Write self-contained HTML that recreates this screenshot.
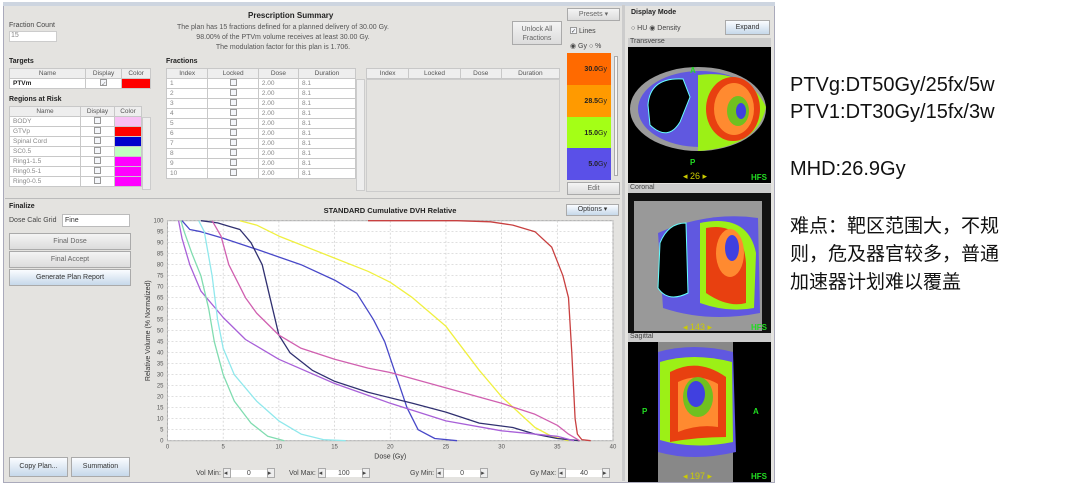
<!DOCTYPE html>
<html><head><meta charset="utf-8"><style>
*{box-sizing:border-box;margin:0;padding:0}
body{width:1080px;height:490px;background:#fff;font-family:"Liberation Sans",sans-serif;position:relative;overflow:hidden;font-size:7px;color:#444}
.abs{position:absolute}
.panel{position:absolute;background:#e4e3e0}
.b{font-weight:bold;color:#222}
.btn{position:absolute;background:linear-gradient(#f4f4f4,#dcdcdc);border:1px solid #aaa;text-align:center;color:#666;font-size:7px}
.btnb{background:linear-gradient(#fafcff,#c6d8ea);color:#333}
table{border-collapse:collapse;position:absolute;font-size:6.5px;color:#888}
td,th{border:1px solid #c8c8c8;height:10px;padding:0 3px;font-weight:normal;background:#fff}
th{background:#eee;color:#555;text-align:center}
.cb{display:inline-block;width:7px;height:7px;border:1px solid #999;background:#f4f6fa}
.txt{font-family:"Liberation Sans","Noto Sans CJK SC",sans-serif;color:#111}
</style></head><body>
<div class="panel" style="left:3px;top:2px;width:772px;height:481px;border:1px solid #aab"></div>
<div class="abs" style="left:3px;top:2px;width:772px;height:4px;background:#cdd5e0"></div>

<!-- top-left -->
<div class="abs" style="left:9px;top:22px;font-size:7px">Fraction Count</div>
<div class="abs" style="left:9px;top:31px;width:48px;height:11px;background:#fff;border:1px solid #ccc;font-size:7px;padding-left:1px;color:#888">15</div>
<div class="abs b" style="left:248px;top:11px;font-size:8px">Prescription Summary</div>
<div class="abs" style="left:168px;top:23px;width:230px;text-align:center;font-size:7px;line-height:10px;color:#555">The plan has 15 fractions defined for a planned delivery of 30.00 Gy.<br>98.00% of the PTVm volume receives at least 30.00 Gy.<br>The modulation factor for this plan is 1.706.</div>
<div class="btn" style="left:512px;top:21px;width:50px;height:24px;line-height:9px;padding-top:3px">Unlock All<br>Fractions</div>

<div class="abs b" style="left:9px;top:58px;font-size:7px">Targets</div>
<table style="left:9px;top:68px;width:142px"><tr><th style="width:76px">Name</th><th>Display</th><th>Color</th></tr><tr><td style="color:#222;font-weight:bold">PTVm</td><td style="text-align:center"><span class="cb">✓</span></td><td style="background:#f00"></td></tr></table>
<div class="abs b" style="left:9px;top:96px">Regions at Risk</div>
<table style="left:9px;top:106px;width:133px">
<tr><th style="width:71px">Name</th><th>Display</th><th style="width:27px">Color</th></tr>
<tr><td>BODY</td><td style="text-align:center"><span class="cb"></span></td><td style="background:#f8c0f4"></td></tr>
<tr><td>GTVp</td><td style="text-align:center"><span class="cb"></span></td><td style="background:#f00"></td></tr>
<tr><td>Spinal Cord</td><td style="text-align:center"><span class="cb"></span></td><td style="background:#00c"></td></tr>
<tr><td>SC0.5</td><td style="text-align:center"><span class="cb"></span></td><td style="background:#c0ffc0"></td></tr>
<tr><td>Ring1-1.5</td><td style="text-align:center"><span class="cb"></span></td><td style="background:#f0f"></td></tr>
<tr><td>Ring0.5-1</td><td style="text-align:center"><span class="cb"></span></td><td style="background:#f0f"></td></tr>
<tr><td>Ring0-0.5</td><td style="text-align:center"><span class="cb"></span></td><td style="background:#f0f"></td></tr></table>
<div class="abs" style="left:142px;top:117px;width:9px;height:73px;background:#eee;border:1px solid #ccc"></div>

<div class="abs b" style="left:166px;top:58px">Fractions</div>
<table style="left:166px;top:68px;width:190px">
<tr><th>Index</th><th>Locked</th><th>Dose</th><th>Duration</th></tr>
<tr><td>1</td><td style="text-align:center"><span class="cb"></span></td><td>2.00</td><td>8.1</td></tr>
<tr><td>2</td><td style="text-align:center"><span class="cb"></span></td><td>2.00</td><td>8.1</td></tr>
<tr><td>3</td><td style="text-align:center"><span class="cb"></span></td><td>2.00</td><td>8.1</td></tr>
<tr><td>4</td><td style="text-align:center"><span class="cb"></span></td><td>2.00</td><td>8.1</td></tr>
<tr><td>5</td><td style="text-align:center"><span class="cb"></span></td><td>2.00</td><td>8.1</td></tr>
<tr><td>6</td><td style="text-align:center"><span class="cb"></span></td><td>2.00</td><td>8.1</td></tr>
<tr><td>7</td><td style="text-align:center"><span class="cb"></span></td><td>2.00</td><td>8.1</td></tr>
<tr><td>8</td><td style="text-align:center"><span class="cb"></span></td><td>2.00</td><td>8.1</td></tr>
<tr><td>9</td><td style="text-align:center"><span class="cb"></span></td><td>2.00</td><td>8.1</td></tr>
<tr><td>10</td><td style="text-align:center"><span class="cb"></span></td><td>2.00</td><td>8.1</td></tr></table>
<div class="abs" style="left:356px;top:79px;width:9px;height:112px;background:#eee;border:1px solid #ccc"></div>
<table style="left:366px;top:68px;width:194px"><tr><th>Index</th><th>Locked</th><th>Dose</th><th>Duration</th></tr></table>
<div class="abs" style="left:366px;top:79px;width:194px;height:113px;border:1px solid #ccc"></div>

<div class="btn" style="left:567px;top:8px;width:53px;height:13px;line-height:11px">Presets ▾</div>
<div class="abs" style="left:570px;top:27px"><span class="cb" style="font-size:6px">✓</span> Lines</div>
<div class="abs" style="left:570px;top:42px">◉ Gy ○ %</div>
<div class="abs" style="left:567px;top:53px;width:44px;height:32px;background:#ff6a00;font-size:7px;text-align:right;padding:13px 4px 0 0;color:#222"><b>30.0</b>Gy</div>
<div class="abs" style="left:567px;top:85px;width:44px;height:32px;background:#ff9a00;text-align:right;padding:13px 4px 0 0;color:#222"><b>28.5</b>Gy</div>
<div class="abs" style="left:567px;top:117px;width:44px;height:31px;background:#a4ff16;text-align:right;padding:13px 4px 0 0;color:#222"><b>15.0</b>Gy</div>
<div class="abs" style="left:567px;top:148px;width:44px;height:32px;background:#5a50e8;text-align:right;padding:13px 4px 0 0;color:#222"><b>5.0</b>Gy</div>
<div class="abs" style="left:614px;top:56px;width:4px;height:120px;border:1px solid #aaa;background:#f4f4f4"></div>
<div class="btn" style="left:567px;top:182px;width:53px;height:13px;line-height:11px">Edit</div>

<!-- finalize -->
<div class="abs" style="left:5px;top:198px;width:615px;height:2px;border-top:1px solid #bbb"></div>
<div class="abs b" style="left:9px;top:203px">Finalize</div>
<div class="abs" style="left:9px;top:217px">Dose Calc Grid</div>
<div class="abs" style="left:62px;top:214px;width:68px;height:13px;background:#fff;border:1px solid #bbb;padding:2px;color:#333">Fine</div>
<div class="btn" style="left:9px;top:233px;width:122px;height:17px;line-height:15px">Final Dose</div>
<div class="btn" style="left:9px;top:251px;width:122px;height:17px;line-height:15px">Final Accept</div>
<div class="btn btnb" style="left:9px;top:269px;width:122px;height:17px;line-height:15px">Generate Plan Report</div>
<div class="btn btnb" style="left:9px;top:457px;width:59px;height:20px;line-height:18px">Copy Plan...</div>
<div class="btn btnb" style="left:71px;top:457px;width:59px;height:20px;line-height:18px">Summation</div>

<div class="btn btnb" style="left:566px;top:204px;width:53px;height:12px;line-height:10px">Options ▾</div>

<svg class="abs" style="left:0;top:0" width="780" height="490" id="chart"></svg>

<!-- bottom controls -->
<div class="abs" style="left:196px;top:468px">Vol Min: <span style="display:inline-block;width:8px;border:1px solid #aaa;background:#eee">◂</span><span style="display:inline-block;width:36px;background:#fff;text-align:center">0</span><span style="display:inline-block;width:8px;border:1px solid #aaa;background:#eee">▸</span></div>
<div class="abs" style="left:289px;top:468px">Vol Max: <span style="display:inline-block;width:8px;border:1px solid #aaa;background:#eee">◂</span><span style="display:inline-block;width:36px;background:#fff;text-align:center">100</span><span style="display:inline-block;width:8px;border:1px solid #aaa;background:#eee">▸</span></div>
<div class="abs" style="left:410px;top:468px">Gy Min: <span style="display:inline-block;width:8px;border:1px solid #aaa;background:#eee">◂</span><span style="display:inline-block;width:36px;background:#fff;text-align:center">0</span><span style="display:inline-block;width:8px;border:1px solid #aaa;background:#eee">▸</span></div>
<div class="abs" style="left:530px;top:468px">Gy Max: <span style="display:inline-block;width:8px;border:1px solid #aaa;background:#eee">◂</span><span style="display:inline-block;width:36px;background:#fff;text-align:center">40</span><span style="display:inline-block;width:8px;border:1px solid #aaa;background:#eee">▸</span></div>

<!-- right image panels -->
<div class="abs" style="left:622px;top:5px;width:3px;height:476px;background:#ccc"></div>
<div class="abs b" style="left:631px;top:9px">Display Mode</div>
<div class="abs" style="left:631px;top:24px">○ HU ◉ Density</div>
<div class="btn btnb" style="left:725px;top:20px;width:45px;height:15px;line-height:13px">Expand</div>
<div class="abs" style="left:628px;top:38px;width:143px;height:9px;background:#ccc;padding-left:2px">Transverse</div>
<svg class="abs" style="left:628px;top:47px" width="143" height="136">
<rect width="143" height="136" fill="#000"/>
<ellipse cx="70" cy="62" rx="68" ry="42" fill="#9a9a9a"/>
<ellipse cx="72" cy="62" rx="62" ry="38" fill="#6058e0"/>
<path d="M70 28 Q120 22 138 60 Q130 100 70 104 Z" fill="#9cf016"/>
<ellipse cx="105" cy="62" rx="27" ry="32" fill="#e84010"/>
<ellipse cx="106" cy="62" rx="20" ry="26" fill="#ff8a30"/>
<ellipse cx="110" cy="64" rx="11" ry="15" fill="#70c020"/>
<ellipse cx="113" cy="64" rx="5" ry="8" fill="#4040e0"/>
<path d="M20 58 Q22 30 55 32 L62 50 L52 75 Q40 95 22 78 Z" fill="#000" stroke="#6ff" stroke-width="1"/>
<text x="62" y="26" fill="#2d2" font-size="8" font-weight="bold">A</text><text x="62" y="118" fill="#2d2" font-size="8" font-weight="bold">P</text>
<text x="55" y="132" fill="#cc0" font-size="9">◂ 26 ▸</text><text x="123" y="133" fill="#2d2" font-size="8" font-weight="bold">HFS</text>
</svg>
<div class="abs" style="left:628px;top:184px;width:143px;height:9px;background:#ccc;padding-left:2px">Coronal</div>
<svg class="abs" style="left:628px;top:193px" width="143" height="140">
<rect width="143" height="140" fill="#111"/><rect x="6" y="8" width="128" height="130" fill="#999"/>
<path d="M30 40 Q80 18 130 25 L132 120 Q80 130 35 115 Z" fill="#6058e0"/>
<path d="M72 30 Q120 20 128 60 L126 115 Q100 120 72 110 Z" fill="#9cf016"/>
<path d="M78 35 Q115 28 118 70 L118 110 Q100 115 78 100 Z" fill="#e84010"/>
<ellipse cx="102" cy="60" rx="14" ry="24" fill="#ff8a30"/><ellipse cx="104" cy="55" rx="7" ry="13" fill="#4040e0"/>
<path d="M32 50 Q40 30 58 30 L60 100 Q40 110 30 95 Z" fill="#000" stroke="#6ff"/>
<text x="55" y="137" fill="#cc0" font-size="9">◂ 143 ▸</text><text x="123" y="137" fill="#2d2" font-size="8" font-weight="bold">HFS</text>
</svg>
<div class="abs" style="left:628px;top:333px;width:143px;height:9px;background:#ccc;padding-left:2px">Sagittal</div>
<svg class="abs" style="left:628px;top:342px" width="143" height="140">
<rect width="143" height="140" fill="#000"/><rect x="30" y="0" width="75" height="140" fill="#888"/>
<path d="M30 10 Q65 0 105 10 L108 110 Q65 120 30 110 Z" fill="#6058e0"/>
<path d="M32 20 Q65 10 104 20 L105 100 Q65 108 32 98 Z" fill="#9cf016"/>
<path d="M42 30 Q70 15 98 35 L98 95 Q70 95 42 100 Z" fill="#e84010"/>
<path d="M50 40 Q70 30 90 42 L90 85 Q70 82 50 90 Z" fill="#ff8a30"/>
<ellipse cx="70" cy="55" rx="15" ry="20" fill="#70c020"/><ellipse cx="68" cy="52" rx="9" ry="13" fill="#4040e0"/>
<text x="14" y="72" fill="#2d2" font-size="8" font-weight="bold">P</text><text x="125" y="72" fill="#2d2" font-size="8" font-weight="bold">A</text>
<text x="55" y="137" fill="#cc0" font-size="9">◂ 197 ▸</text><text x="123" y="137" fill="#2d2" font-size="8" font-weight="bold">HFS</text>
</svg>

<!-- right text -->
<div class="abs txt" style="left:790px;top:72px;font-size:20px;line-height:27px">PTVg:DT50Gy/25fx/5w<br>PTV1:DT30Gy/15fx/3w</div>
<div class="abs txt" style="left:790px;top:158px;font-size:20px">MHD:26.9Gy</div>
<div class="abs txt" style="left:790px;top:213px;font-size:19px;line-height:28px">难点：靶区范围大，不规<br>则，危及器官较多，普通<br>加速器计划难以覆盖</div>

<script>
const xTicks=[0,5,10,15,20,25,30,35,40];
const yTicks=[0,5,10,15,20,25,30,35,40,45,50,55,60,65,70,75,80,85,90,95,100];
const seriesColors=["#c84040","#f0f040","#4848c8","#303070","#d060b0","#a860d8","#90e8ec","#80dcb0"];
const redDose=[18,26,29,31,33,34.5,35.5,36,36.3,36.6,36.8,37.2,38];
const redVol=[100,100,99.5,98,95,88,75,65,40,10,3,0.5,0];
const yellowDose=[6.5,8,10,15,18,20,22,25,28,30,31.5,33,34.5,36];
const yellowVol=[100,98,93,83,77,72,65,52,32,20,13,6,2,0];
const blueDose=[1.3,2,3,5,8,12,15,17,18.5,19.5,20.5,21.5,22.5,24,26];
const blueVol=[100,96,95,92,87,80,73,67,55,45,30,15,5,1,0];
const navyDose=[3,4.5,5.5,6.5,7.5,8.5,9.2,10,11,13,15,18,22,25,28,31,33,35,37];
const navyVol=[100,99,97.5,96,90,80,65,48,40,32,27,22,17,13,8,6,3,1,0];
const pinkDose=[4,4.8,5.5,7,8,10,12,15,18,20,25,30,33,35,36,37];
const pinkVol=[100,93,80,65,58,48,42,37,33,31,24,17,12,7,3,0];
const purpleDose=[1,1.3,2,3,5,7,10,15,20,25,30,35,36.5];
const purpleVol=[100,92,80,68,56,46,37,26,17,9,4.5,2,0];
const cyanDose=[2.8,3.3,4,4.5,5,6,8,10,12,14,16];
const cyanVol=[100,95,75,55,42,30,18,9,3,0.5,0];
const tealDose=[1.2,1.5,2.2,3,3.7,4.2,5,6,7.5,9,10.5];
const tealVol=[100,95,85,75,60,45,30,18,8,2,0];
const seriesNames=["ptvm","ptv-yellow","spinal-blue","navy","pink","purple","cyan","teal"];
const seriesDose=[redDose,yellowDose,blueDose,navyDose,pinkDose,purpleDose,cyanDose,tealDose];
const seriesVol=[redVol,yellowVol,blueVol,navyVol,pinkVol,purpleVol,cyanVol,tealVol];

const L=167.5,R=613,T=220.7,B=440.7;
const sx=d=>L+(d/40)*(R-L), sy=v=>B-(v/100)*(B-T);
const svg=document.getElementById('chart');
const NS="http://www.w3.org/2000/svg";
function mk(tag,attrs){const e=document.createElementNS(NS,tag);for(const k in attrs)e.setAttribute(k,attrs[k]);svg.appendChild(e);return e;}
let t=mk('text',{x:390,y:213,'font-size':7.5,'font-weight':'bold','text-anchor':'middle',fill:'#222','font-family':'Liberation Sans'});t.textContent='STANDARD Cumulative DVH Relative';


let bg=mk('rect',{x:L,y:T,width:R-L,height:B-T,fill:'#fff',stroke:'#aaa'});


yTicks.forEach(v=>{const g=mk('line',{x1:L,x2:R,y1:sy(v),y2:sy(v),stroke:'#ccc','stroke-dasharray':'2,2','stroke-width':0.7});


const l=mk('text',{x:L-4,y:sy(v)+2,'font-size':6,'text-anchor':'end',fill:'#555'});l.textContent=v;

});
xTicks.forEach(d=>{const g=mk('line',{x1:sx(d),x2:sx(d),y1:T,y2:B,stroke:'#ccc','stroke-dasharray':'2,2','stroke-width':0.7});


const l=mk('text',{x:sx(d),y:B+8,'font-size':6,'text-anchor':'middle',fill:'#555'});l.textContent=d;

});
let xt=mk('text',{x:(L+R)/2,y:B+18,'font-size':7,'text-anchor':'middle',fill:'#333'});xt.textContent='Dose (Gy)';


let yt=mk('text',{x:0,y:0,'font-size':7,'text-anchor':'middle',fill:'#333',transform:`translate(150,${(T+B)/2}) rotate(-90)`});yt.textContent='Relative Volume (% Normalized)';


seriesDose.forEach((ds,i)=>{const pts=ds.map((d,j)=>sx(d).toFixed(1)+','+sy(seriesVol[i][j]).toFixed(1)).join(' ');
const p=mk('polyline',{points:pts,fill:'none',stroke:seriesColors[i],'stroke-width':1.3,'stroke-linejoin':'round'});

});
</script>
</body></html>
